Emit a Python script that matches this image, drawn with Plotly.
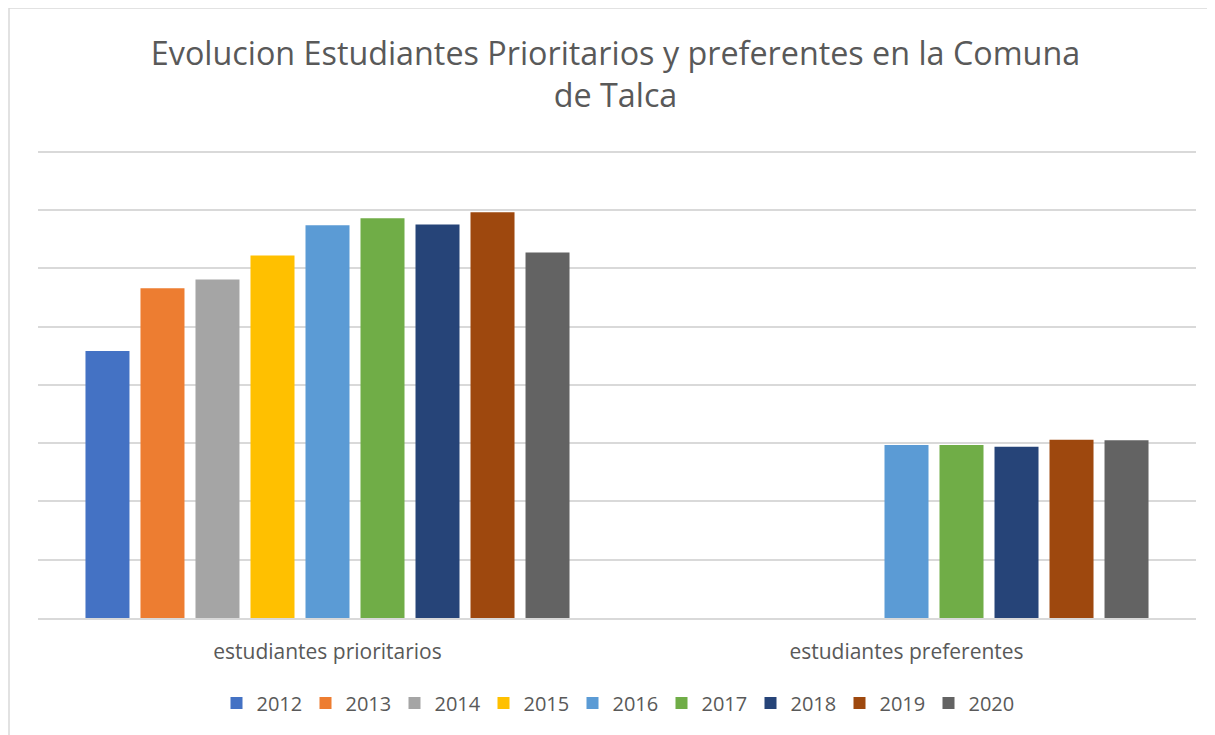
import plotly.graph_objects as go

# categories and yearly series (arbitrary units)
categorias = ["estudiantes prioritarios", "estudiantes preferentes"]
anios = ["2012", "2013", "2014", "2015", "2016", "2017", "2018", "2019", "2020"]
prioritarios = [4580, 5660, 5810, 6220, 6740, 6860, 6750, 6960, 6270]
preferentes = [None, None, None, None, 2970, 2970, 2940, 3060, 3050]
colores = ["#4472C4", "#ED7D31", "#A5A5A5", "#FFC000", "#5B9BD5",
           "#70AD47", "#264478", "#9E480E", "#636363"]

TXT = "#595959"
FONT = "Open Sans"


def main():
    fig = go.Figure()
    for i, anio in enumerate(anios):
        fig.add_trace(go.Bar(
            name=anio,
            x=categorias,
            y=[prioritarios[i], preferentes[i]],
            marker=dict(color=colores[i], line=dict(width=0)),
        ))

    # the page body adds an 8px offset, margins account for it
    fig.update_layout(
        width=1215, height=735,
        margin=dict(l=30, r=27, t=142, b=125, autoexpand=False),
        paper_bgcolor="white", plot_bgcolor="white",
        font=dict(family=FONT, color=TXT),
        barmode="group", bargap=0.145, bargroupgap=0.2,
        showlegend=True,
        title=dict(
            text="Evolucion Estudiantes Prioritarios y preferentes en la Comuna<br>de Talca",
            x=0.5, xanchor="center", y=0.923, yanchor="middle",
            font=dict(size=32.3, color=TXT, family=FONT),
        ),
        legend=dict(
            orientation="h", x=0.5, xanchor="center", y=-0.1816, yanchor="middle",
            font=dict(size=20, color=TXT), itemwidth=30, entrywidth=44,
            traceorder="normal",
        ),
        shapes=[dict(
            type="rect", xref="paper", yref="paper",
            x0=-0.02504, x1=1.0155, y0=-0.267, y1=1.3034,
            line=dict(color="#d9d9d9", width=1.5), layer="below",
        )],
    )
    fig.update_xaxes(
        showgrid=False, showline=True, linecolor="#d9d9d9", linewidth=1.5,
        ticks="", tickfont=dict(size=21, color=TXT), ticklabelstandoff=14,
    )
    fig.update_yaxes(
        range=[0, 8030], dtick=1000, showgrid=True, gridcolor="#d9d9d9",
        gridwidth=1.5, showticklabels=False, zeroline=False, ticks="",
    )
    fig.write_html("out.html")


if __name__ == "__main__":
    main()
